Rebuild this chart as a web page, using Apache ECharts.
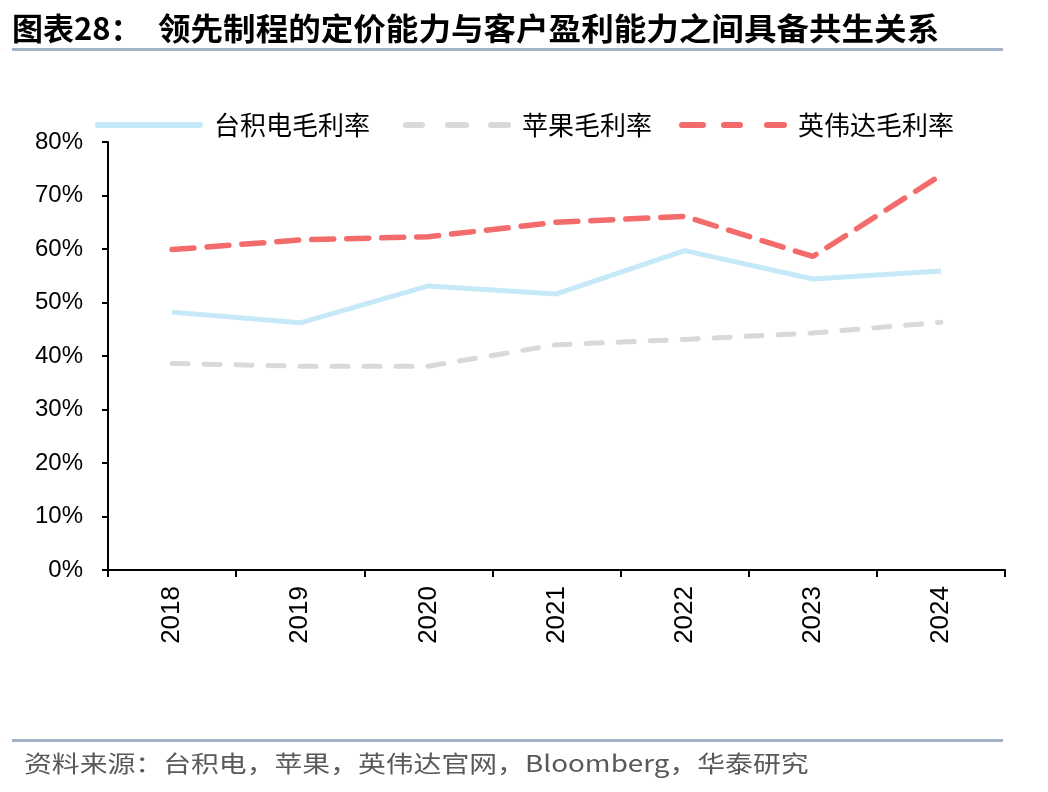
<!DOCTYPE html>
<html><head><meta charset="utf-8">
<script src="https://cdn.jsdelivr.net/npm/echarts@6/dist/echarts.min.js"></script>
<style>html,body{margin:0;padding:0;background:#fff}#c{width:1048px;height:792px}</style>
</head><body><div id="c"></div>
<script>
var years = ['2018','2019','2020','2021','2022','2023','2024'];
var tsmc = [48.2, 46.2, 53.1, 51.6, 59.7, 54.4, 55.9];
var apple = [38.6, 38.1, 38.1, 42.1, 43.1, 44.3, 46.3];
var nvidia = [59.9, 61.7, 62.3, 65.0, 66.1, 58.6, 73.8];
var seriesNames = ['台积电毛利率', '苹果毛利率', '英伟达毛利率'];
var titlePrefix = '图表28：';
var titleText = '领先制程的定价能力与客户盈利能力之间具备共生关系';
var sourceText = '资料来源：台积电，苹果，英伟达官网，Bloomberg，华泰研究';

function seg(a, b) { return 'M' + (a+3) + ',0H' + (b-3) + 'A3,3 0 0 1 ' + (b-3) + ',6H' + (a+3) + 'A3,3 0 0 1 ' + (a+3) + ',0Z'; }
var iconSolid = 'path://' + seg(0, 108);
var iconGray = 'path://' + seg(0, 22) + seg(42, 66) + seg(85, 108);
var iconRed = 'path://' + seg(0, 27) + seg(42, 64) + seg(85, 108);

var chart = echarts.init(document.getElementById('c'));
var cjk = '"Noto Sans CJK SC", sans-serif';
function mkLegend(name, left, icon) {
  return {
    data: [{name: name, icon: icon}], left: left, top: 107,
    itemWidth: 108, itemHeight: 6, selectedMode: false,
    itemStyle: {borderWidth: 0},
    textStyle: {fontSize: 26, fontFamily: cjk, color: '#000', padding: [0, 0, 0, 6]}
  };
}
chart.setOption({
  animation: false,
  backgroundColor: '#fff',
  graphic: [
    {type:'text', x:12, y:13, style:{text:titlePrefix, font:'bold 31px ' + cjk, fill:'#000'}},
    {type:'text', x:158, y:13, scaleX:1.05, style:{text:titleText, font:'bold 31px ' + cjk, fill:'#000'}},
    {type:'rect', shape:{x:12, y:48, width:991, height:3}, style:{fill:'#a3b3c6'}},
    {type:'rect', shape:{x:12, y:739, width:991, height:3}, style:{fill:'#a3b3c6'}},
    {type:'text', x:24, y:752, scaleX:1.21, style:{text:sourceText, font:'23px ' + cjk, fill:'#595959'}}
  ],
  legend: [mkLegend(seriesNames[0], 90, iconSolid), mkLegend(seriesNames[1], 398, iconGray), mkLegend(seriesNames[2], 674, iconRed)],
  grid: {left: 108, right: 43, top: 142, bottom: 222},
  xAxis: {
    type: 'category', data: years, boundaryGap: true,
    axisLine: {lineStyle: {color: '#000', width: 2}},
    axisTick: {show: true, length: 7, lineStyle:{color:'#000', width:2}},
    axisLabel: {rotate: 90, fontSize: 26, color: '#000', fontFamily: 'Liberation Sans, Arial', margin: 16}
  },
  yAxis: {
    type: 'value', min: 0, max: 80, interval: 10,
    axisLine: {show: true, lineStyle: {color: '#000', width: 2}},
    axisTick: {show: true, length: 6, lineStyle:{color:'#000', width:2}},
    splitLine: {show: false},
    axisLabel: {formatter: '{value}%', fontSize: 24, color: '#000', fontFamily: 'Liberation Sans, Arial', margin: 25}
  },
  series: [
    {name: seriesNames[0], type: 'line', data: tsmc, showSymbol: false, symbol:'none',
     itemStyle:{color:'#c6e9f7'}, lineStyle: {color: '#c6e9f7', width: 5}},
    {name: seriesNames[1], type: 'line', data: apple, showSymbol: false, symbol:'none',
     itemStyle:{color:'#d9d9d9'}, lineStyle: {color: '#d9d9d9', width: 5, type: [16, 16], cap:'round'}},
    {name: seriesNames[2], type: 'line', data: nvidia, showSymbol: false, symbol:'none',
     itemStyle:{color:'#f46b6b'}, lineStyle: {color: '#f46b6b', width: 5.5, type: [22, 13], cap:'round'}}
  ]
});
</script></body></html>
